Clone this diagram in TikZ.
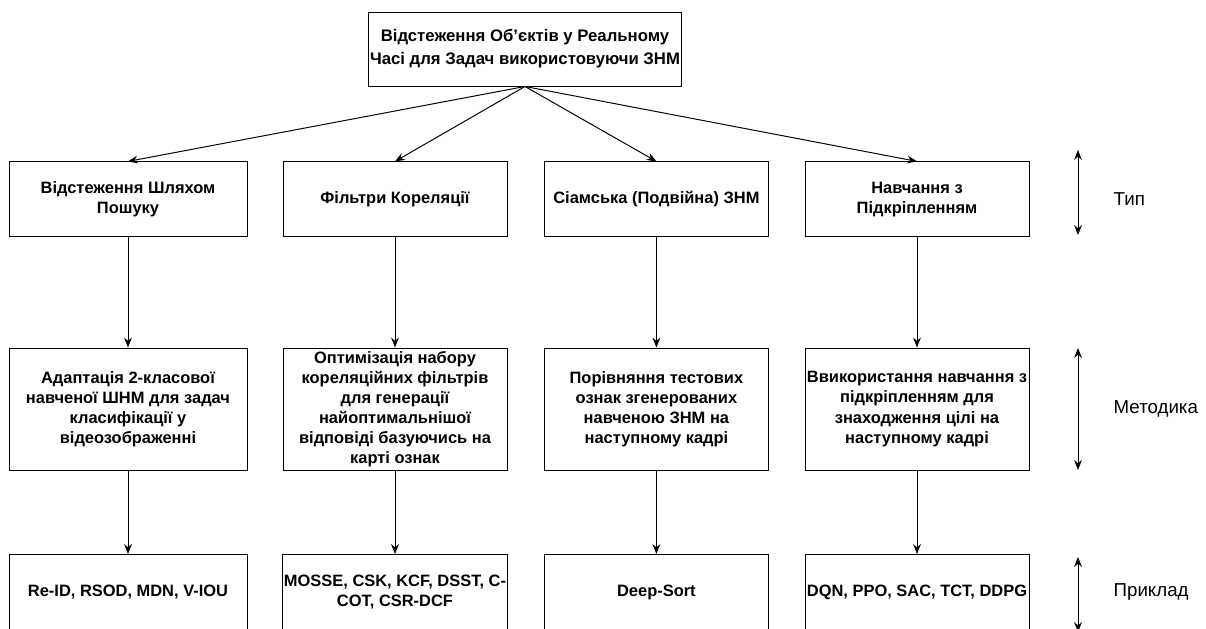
\documentclass[tikz,border=0pt]{standalone}
\usepackage{fontspec}
\setmainfont{Liberation Sans}
\usetikzlibrary{calc,arrows.meta}

\begin{document}
\begin{tikzpicture}[>={Stealth[length=7pt,width=5.5pt]}, line width=0.7pt,
  box/.style={draw, minimum width=5.6cm, minimum height=1.875cm, align=center, inner sep=1pt,
    font=\bfseries\fontsize{11.7}{14.3}\selectfont},
  tallbox/.style={box, minimum height=3.05cm},
  sidelabel/.style={anchor=west, inner sep=0pt, font=\fontsize{13.3}{16}\selectfont}]
  \useasboundingbox (0,0) rectangle (30.15,15.725);

  \node[box, minimum width=7.75cm, minimum height=1.85cm,
    font=\bfseries\fontsize{11.9}{16.5}\selectfont] (top) at (13.125,14.5)
    {Відстеження Об'єктів у Реальному\\Часі для Задач використовуючи ЗНМ};

  \node[box, minimum width=5.95cm] (t1) at (3.2,10.74) {Відстеження Шляхом\\Пошуку};
  \node[box] (t2) at (9.875,10.74) {Фільтри Кореляції};
  \node[box] (t3) at (16.41,10.74) {Сіамська (Подвійна) ЗНМ};
  \node[box] (t4) at (22.925,10.74) {Навчання з\\Підкріпленням};

  \node[tallbox, minimum width=5.95cm] (m1) at (3.2,5.5)
    {Адаптація 2-класової\\навченої ШНМ для задач\\класифікації у\\відеозображенні};
  \node[tallbox] (m2) at (9.875,5.5)
    {Оптимізація набору\\кореляційних фільтрів\\для генерації\\найоптимальнішої\\відповіді базуючись на\\карті ознак};
  \node[tallbox] (m3) at (16.41,5.5)
    {Порівняння тестових\\ознак згенерованих\\навченою ЗНМ на\\наступному кадрі};
  \node[tallbox] (m4) at (22.925,5.5)
    {Ввикористання навчання з\\підкріпленням для\\знаходження цілі на\\наступному кадрі};

  \node[box, minimum width=5.95cm] (e1) at (3.2,0.925) {Re-ID, RSOD, MDN, V-IOU};
  \node[box] (e2) at (9.875,0.925) {MOSSE, CSK, KCF, DSST, C-\\COT, CSR-DCF};
  \node[box] (e3) at (16.41,0.925) {Deep-Sort};
  \node[box] (e4) at (22.925,0.925) {DQN, PPO, SAC, TCT, DDPG};

  \draw[->] (top.south) -- (t1.north);
  \draw[->] (top.south) -- (t2.north);
  \draw[->] (top.south) -- (t3.north);
  \draw[->] (top.south) -- (t4.north);

  \foreach \c in {1,2,3,4} {
    \draw[->] (t\c.south) -- (m\c.north);
    \draw[->] (m\c.south) -- (e\c.north);
  }

  \coordinate (typeup) at (26.95,11.975);
  \coordinate (typedown) at (26.95,9.85);
  \coordinate (methup) at (26.95,7.025);
  \coordinate (methdown) at (26.95,3.975);
  \coordinate (exup) at (26.95,1.8);
  \coordinate (exdown) at (26.95,-0.075);

  \draw[<->] (typeup) -- (typedown);
  \draw[<->] (methup) -- (methdown);
  \draw[<->] (exup) -- (exdown);

  \node[sidelabel] (type) at (27.83,10.74) {Тип};
  \node[sidelabel] (meth) at (27.83,5.5) {Методика};
  \node[sidelabel] (ex) at (27.83,0.925) {Приклад};
\end{tikzpicture}
\end{document}
